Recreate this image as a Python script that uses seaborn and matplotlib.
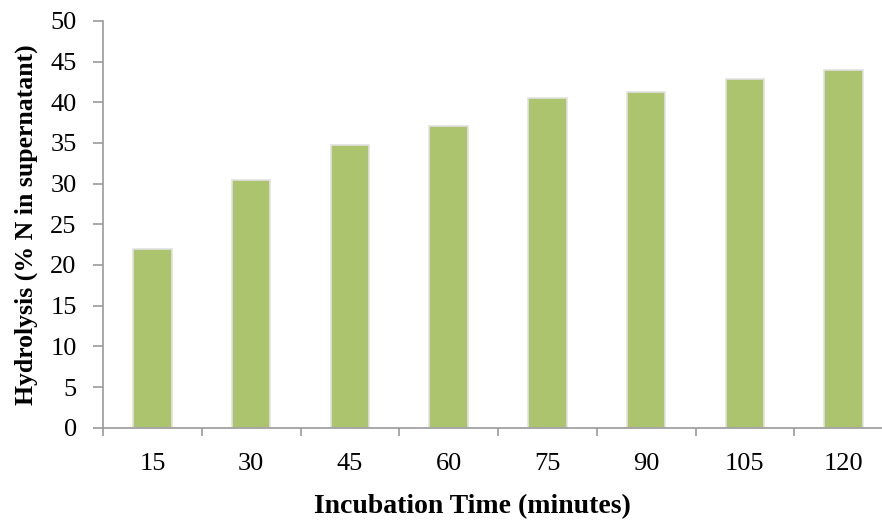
import pandas as pd
import seaborn as sns
import matplotlib.pyplot as plt
from matplotlib.ticker import FixedLocator

# data
times = ["15", "30", "45", "60", "75", "90", "105", "120"]
hydrolysis = [22.0, 30.5, 34.7, 37.1, 40.5, 41.2, 42.8, 43.9]

df = pd.DataFrame({"time": times, "hydrolysis": hydrolysis})

sns.set_style("white")
plt.rcParams["font.family"] = ["Liberation Serif", "DejaVu Serif"]

fig = plt.figure(figsize=(8.82, 5.21), dpi=100)
ax = fig.add_axes([0.1168, 0.179, 0.8957, 0.781])

sns.barplot(data=df, x="time", y="hydrolysis", color="#abc46d",
            saturation=1, width=0.39, edgecolor="#e2e2e2", linewidth=1.2, ax=ax)

ax.set_ylim(0, 50)
ax.set_yticks(range(0, 51, 5))
ax.set_xlim(-0.5, 7.5)

# x ticks sit between the categories
ax.xaxis.set_minor_locator(FixedLocator([i - 0.5 for i in range(9)]))
ax.tick_params(axis="x", which="major", bottom=True, length=0, labelsize=19,
               pad=18, labelcolor="black")
ax.tick_params(axis="x", which="minor", bottom=True, length=6, width=1.2,
               color="#9a9a9a", direction="out")
ax.tick_params(axis="y", left=True, length=7, width=1.2, color="#9a9a9a",
               direction="out", labelsize=19, pad=12, labelcolor="black")

for s in ["top", "right"]:
    ax.spines[s].set_visible(False)
for s in ["left", "bottom"]:
    ax.spines[s].set_color("#9a9a9a")
    ax.spines[s].set_linewidth(1.2)

ax.set_xlabel("Incubation Time (minutes)", fontsize=20, fontweight="bold",
              color="black")
ax.xaxis.set_label_coords(0.468, -0.162)
ax.set_ylabel("Hydrolysis (% N in supernatant)", fontsize=18.5, fontweight="bold",
              labelpad=9, color="black")

fig.savefig("out.png", dpi=100)
